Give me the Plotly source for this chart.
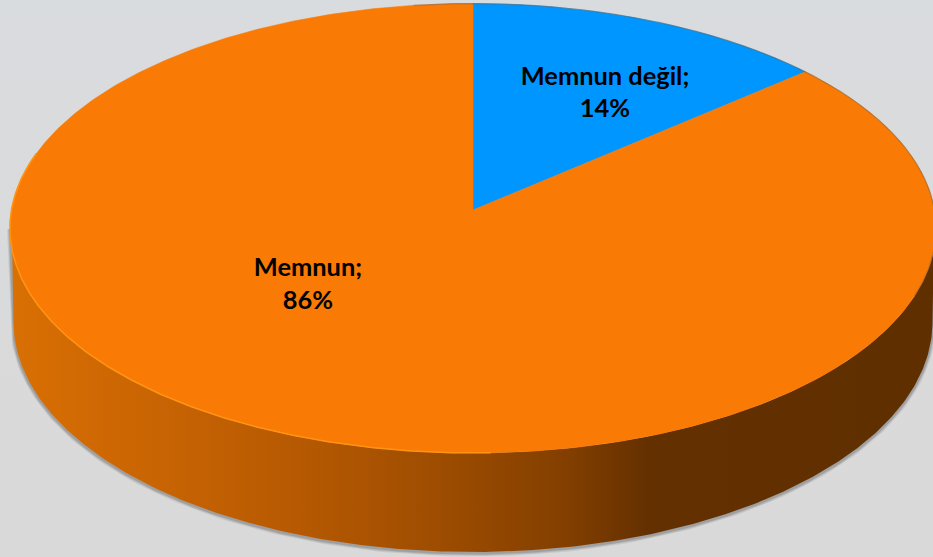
import numpy as np
import plotly.graph_objects as go

categories = ["Memnun değil", "Memnun"]
shares = [13.7, 86.3]
slice_colors = ["#0096FF", "#F97A05"]

# Drawing geometry in picture pixels: the disc is a circle seen in perspective
W, H = 933, 557
CX, APEX_Y, TOP_B, K, A = 473.0, 210.0, 206.2, 0.0812, 461.5
BOT_CY, BOT_A, BOT_B = 322.0, 459.5, 230.0
LABEL_XY = {"Memnun değil": (605, 78.5, 110.5), "Memnun": (308, 269.5, 302.5)}
LINE_PX = 25.4


def project(theta):
    u, v = np.sin(theta), np.cos(theta)
    w = 1 + K * v
    return CX + A * u / w, (APEX_Y - TOP_B * v) / w


def arc(a0, a1, n=240):
    return project(np.radians(np.linspace(a0, a1, n)))


fig = go.Figure()

# background
fig.add_trace(go.Scatter(
    x=[0, W, W, 0, 0], y=[0, 0, H, H, 0], mode="lines", line=dict(width=0),
    fill="toself", fillgradient=dict(type="vertical", colorscale=[[0, "#D9D9D9"], [0.45, "#D9DADB"], [1, "#D9DCDF"]]),
    hoverinfo="skip", showlegend=False))

# soft contact shadow under the wall
ts = np.radians(np.linspace(180, 0, 300))
bx, by = CX + BOT_A * np.cos(ts), BOT_CY + BOT_B * np.sin(ts)
sx = np.concatenate([[10.5], bx, [W + 3]])
sy = np.concatenate([[228], by, [228]])
for width, alpha in [(7, 0.10), (5, 0.14), (3, 0.20)]:
    fig.add_trace(go.Scatter(x=sx, y=sy + 1, mode="lines",
                             line=dict(width=width, color=f"rgba(70,70,70,{alpha})"),
                             hoverinfo="skip", showlegend=False))

# wall with a left-to-right shading
tx, ty = arc(90, 270)
side_x = np.concatenate([tx, bx])
side_y = np.concatenate([ty, by])
fig.add_trace(go.Scatter(
    x=side_x, y=side_y, mode="lines", line=dict(width=0), fill="toself",
    fillgradient=dict(type="horizontal", colorscale=[
        [0.00, "#D97004"], [0.10, "#CF6803"], [0.30, "#B85A02"], [0.45, "#A04E01"],
        [0.60, "#833F00"], [0.69, "#643000"], [1.00, "#5F2F00"]]),
    hoverinfo="skip", showlegend=False))

# top face slices, clockwise from 12 o'clock
start = 0.0
total = sum(shares)
for name, share, color in zip(categories, shares, slice_colors):
    end = start + 360.0 * share / total
    x, y = arc(start, end, max(8, int(end - start) * 2))
    fig.add_trace(go.Scatter(
        x=np.concatenate([[CX], x, [CX]]), y=np.concatenate([[APEX_Y], y, [APEX_Y]]),
        mode="lines", line=dict(width=0.6, color=color), fill="toself", fillcolor=color,
        name=name, hoverinfo="name", showlegend=False))
    start = end

# rim highlight along the front-left edge and faint dark edge at the back right
hx, hy = arc(178, 285)
fig.add_trace(go.Scatter(x=hx, y=hy, mode="lines", line=dict(width=1.6, color="#FF9412"),
                         hoverinfo="skip", showlegend=False))
ex, ey = arc(-8, 112)
fig.add_trace(go.Scatter(x=ex, y=ey, mode="lines", line=dict(width=1.2, color="rgba(110,85,60,0.42)"),
                         hoverinfo="skip", showlegend=False))

# labels
for name, share in zip(categories, shares):
    lx, y1, y2 = LABEL_XY[name]
    fig.add_trace(go.Scatter(
        x=[lx, lx], y=[y1, y2], mode="text", text=[f"{name};", f"{share:.0f}%"],
        textposition="middle center",
        textfont=dict(family="Lato, Carlito, sans-serif", size=LINE_PX, color="#000000", weight="bold"),
        hoverinfo="skip", showlegend=False))

fig.update_layout(
    width=W, height=H, margin=dict(l=0, r=0, t=0, b=0),
    paper_bgcolor="#D9DADB", plot_bgcolor="#D9DADB",
    xaxis=dict(range=[0, W], visible=False, fixedrange=True),
    yaxis=dict(range=[H, 0], visible=False, fixedrange=True),
)
fig.write_html("out.html", config={"displayModeBar": False},
               post_script="document.body.style.margin='0';document.body.style.overflow='hidden';")
